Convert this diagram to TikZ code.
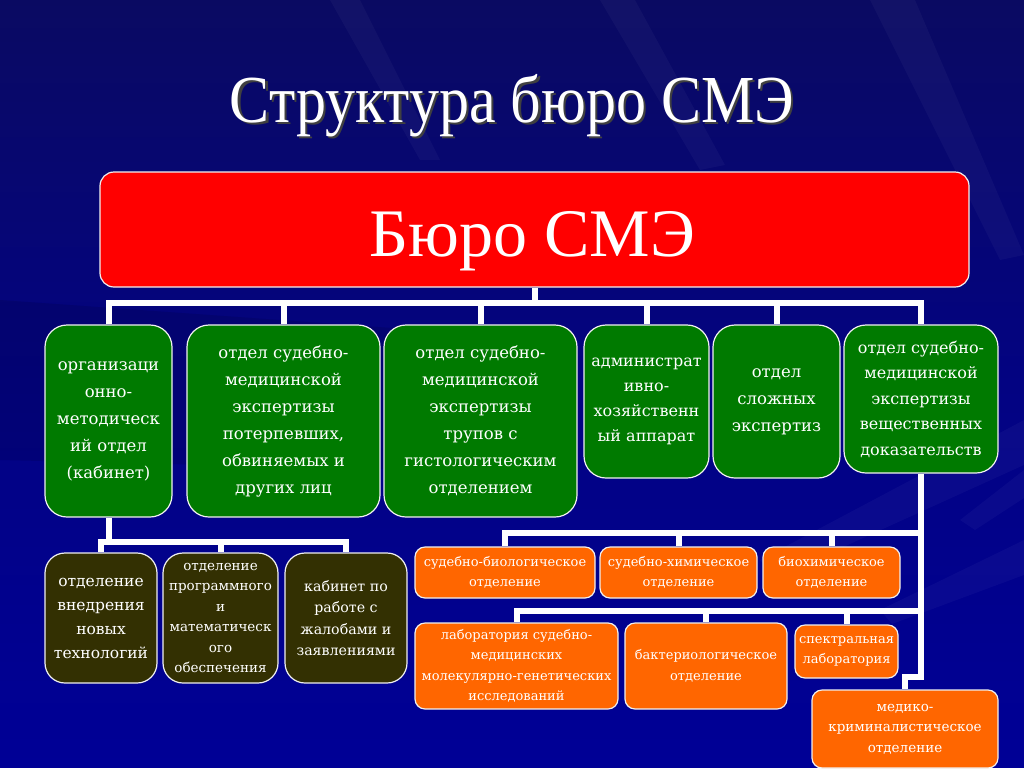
\documentclass[tikz,border=0pt]{standalone}
\usepackage{fontspec}
\usepackage{graphicx}
\setmainfont{Liberation Serif}
\newfontfamily\boxfont{DejaVu Serif}
\usetikzlibrary{calc}
\pgfdeclarelayer{bglayer}
\pgfdeclarelayer{connlayer}
\pgfsetlayers{bglayer,connlayer,main}
\definecolor{bgtop}{RGB}{10,10,98}
\definecolor{bgmid}{RGB}{3,3,130}
\definecolor{bgbot}{RGB}{0,0,150}
\definecolor{redbox}{RGB}{255,0,0}
\definecolor{greenbox}{RGB}{0,122,0}
\definecolor{darkbox}{RGB}{51,48,2}
\definecolor{orangebox}{RGB}{255,102,0}
\newcommand{\shadowtext}[1]{\rlap{\kern2.5pt\raisebox{-2.5pt}{\textcolor{black!75}{#1}}}#1}
\begin{document}
\begin{tikzpicture}[x=1pt,y=-1pt,
  box/.style={draw=white!88!gray, line width=1.2, align=center, inner sep=0pt, text=white},
  redst/.style={box, fill=redbox, rounded corners=14},
  gst/.style={box, fill=greenbox, rounded corners=22, font=\boxfont\fontsize{16.5}{27}\selectfont},
  dst/.style={box, fill=darkbox, rounded corners=20},
  ost/.style={box, fill=orangebox, rounded corners=10, font=\boxfont\fontsize{13}{20.5}\selectfont},
  conn/.style={draw=white, line width=6, line join=miter},
  ray/.style={fill=white, opacity=0.035}]

\begin{pgfonlayer}{bglayer}
  \shade[top color=bgtop, bottom color=bgbot, middle color=bgmid] (0,0) rectangle (1024,767);
  \fill[black, opacity=0.10] (0,300) -- (420,330) -- (420,470) -- (0,460) -- cycle;
  \fill[ray] (1024,420) -- (760,560) -- (775,578) -- (1024,465) -- cycle;
  \fill[ray] (1024,540) -- (880,610) -- (892,624) -- (1024,575) -- cycle;
  \fill[ray] (1024,470) -- (960,520) -- (975,530) -- (1024,498) -- cycle;
  \fill[ray] (870,0) -- (1000,260) -- (1024,255) -- (915,0) -- cycle;
  \fill[ray] (600,0) -- (700,170) -- (725,165) -- (635,0) -- cycle;
  \fill[ray] (330,0) -- (420,160) -- (440,160) -- (360,0) -- cycle;
\end{pgfonlayer}

% title
\node[font=\fontsize{60}{60}\selectfont, text=white, anchor=base] (title) at (512,122) {\scalebox{1}[1.12]{\shadowtext{Структура бюро СМЭ}}};

% top box
\node[redst, minimum width=869, minimum height=115] (red) at (534.5,229.5) {};
\node[font=\fontsize{68}{68}\selectfont, text=white, anchor=base] (redtext) at (532.5,256) {Бюро СМЭ};

% green row
\node[gst, minimum width=127, minimum height=192] (g1) at (108.5,421) {организаци\\онно-\\методическ\\ий отдел\\(кабинет)};
\node[gst, minimum width=193, minimum height=192] (g2) at (283.5,421) {отдел судебно-\\медицинской\\экспертизы\\потерпевших,\\обвиняемых и\\других лиц};
\node[gst, minimum width=193, minimum height=192] (g3) at (480.5,421) {отдел судебно-\\медицинской\\экспертизы\\трупов с\\гистологическим\\отделением};
\node[gst, minimum width=125, minimum height=153, font=\boxfont\fontsize{16}{25}\selectfont] (g4) at (646.5,401.5) {администрат\\ивно-\\хозяйственн\\ый аппарат};
\node[gst, minimum width=127, minimum height=153, font=\boxfont\fontsize{16.5}{27}\selectfont] (g5) at (776.5,401.5) {отдел\\сложных\\экспертиз};
\node[gst, minimum width=154, minimum height=148, font=\boxfont\fontsize{16}{25.5}\selectfont] (g6) at (921,399) {отдел судебно-\\медицинской\\экспертизы\\вещественных\\доказательств};

% dark row
\node[dst, minimum width=112, minimum height=130, font=\boxfont\fontsize{15.5}{24}\selectfont] (d1) at (101,618) {отделение\\внедрения\\новых\\технологий};
\node[dst, minimum width=115, minimum height=130, font=\boxfont\fontsize{13.5}{20.5}\selectfont] (d2) at (220.5,618) {отделение\\программного\\и\\математическ\\ого\\обеспечения};
\node[dst, minimum width=122, minimum height=130, font=\boxfont\fontsize{14.2}{21.5}\selectfont] (d3) at (346,618) {кабинет по\\работе с\\жалобами и\\заявлениями};

% orange rows
\node[ost, minimum width=180, minimum height=51] (o1) at (505,572.5) {судебно-биологическое\\отделение};
\node[ost, minimum width=157, minimum height=51] (o2) at (678.5,572.5) {судебно-химическое\\отделение};
\node[ost, minimum width=137, minimum height=51] (o3) at (831.5,572.5) {биохимическое\\отделение};
\node[ost, minimum width=203, minimum height=86] (o4) at (516.5,666) {лаборатория судебно-\\медицинских\\молекулярно-генетических\\исследований};
\node[ost, minimum width=162, minimum height=86] (o5) at (706,666) {бактериологическое\\отделение};
\node[ost, minimum width=103, minimum height=53] (o6) at (846.5,651.5) {спектральная\\лаборатория};
\node[ost, minimum width=186, minimum height=78, font=\boxfont\fontsize{13.5}{20.5}\selectfont] (o7) at (905,729) {медико-\\криминалистическое\\отделение};

% connectors
\begin{pgfonlayer}{connlayer}
  \coordinate (b1) at (534.5,303);
  \coordinate (b2) at (108.5,542);
  \coordinate (r1) at (921,533);
  \coordinate (r2) at (921,611);
  \coordinate (j) at (921,677);
  \draw[conn] (red.south) -- (b1);
  \draw[conn] (g1.north) -- (g1.north |- b1) -- (g6.north |- b1) -- (g6.north);
  \foreach \n in {g2,g3,g4,g5} \draw[conn] (\n.north) -- (\n.north |- b1);
  \draw[conn] (g1.south) -- (b2);
  \draw[conn] (d1.north) -- (d1.north |- b2) -- (d3.north |- b2) -- (d3.north);
  \draw[conn] (d2.north) -- (d2.north |- b2);
  \draw[conn] (g6.south) -- (j) -| (o7.north);
  \draw[conn] (o1.north) -- (o1.north |- r1) -- (r1);
  \foreach \n in {o2,o3} \draw[conn] (\n.north) -- (\n.north |- r1);
  \draw[conn] (o4.north) -- (o4.north |- r2) -- (r2);
  \foreach \n in {o5,o6} \draw[conn] (\n.north) -- (\n.north |- r2);
\end{pgfonlayer}

\useasboundingbox (0,0) rectangle (1024,767);
\end{tikzpicture}
\end{document}
